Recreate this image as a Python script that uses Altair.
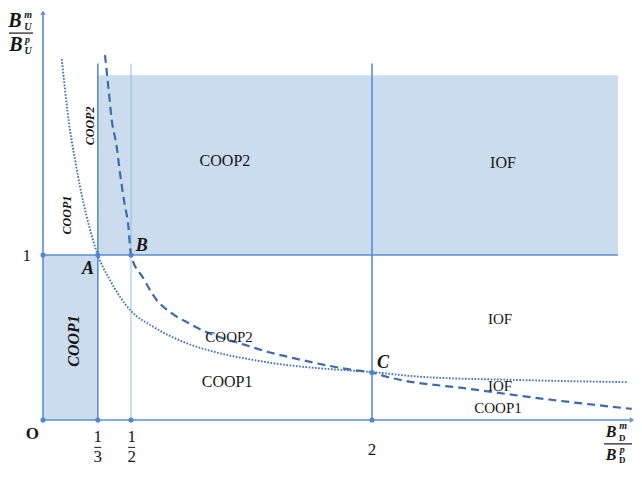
import altair as alt
import pandas as pd

# ---------------- data ----------------
# threshold curves
dotted_x = [0.114, 0.134, 0.164, 0.195, 0.225, 0.266, 0.333, 0.407, 0.468, 0.529, 0.670,
            0.874, 1.076, 1.278, 1.481, 1.684, 2.0, 2.292, 2.900, 3.556]
dotted_y = [2.188, 2.0, 1.758, 1.576, 1.414, 1.232, 1.0, 0.848, 0.747, 0.667, 0.565,
            0.465, 0.404, 0.364, 0.333, 0.313, 0.29, 0.262, 0.242, 0.229]

dashed_x = [0.377, 0.397, 0.418, 0.448, 0.468, 0.492, 0.519, 0.535, 0.610, 0.691, 0.782,
            0.894, 0.965, 1.228, 1.368, 1.502, 1.684, 1.886, 2.0, 2.089, 2.596, 3.100, 3.579]
dashed_y = [2.212, 2.020, 1.818, 1.656, 1.497, 1.333, 1.172, 1.0, 0.859, 0.727, 0.647,
            0.582, 0.545, 0.455, 0.412, 0.380, 0.339, 0.303, 0.288, 0.262, 0.188, 0.121, 0.067]

# shaded regions
rect_x = [0.3333, 0.0]
rect_x2 = [3.495, 0.3333]
rect_y = [1.0, 0.0]
rect_y2 = [2.09, 1.0]

# line segments (axes, borders, guides)
seg_x = [0.0, 0.0, 0.0, 0.3333, 2.0, 0.535]
seg_y = [0.0, 0.0, 1.0, 0.0, 0.0, 0.0]
seg_x2 = [3.585, 0.0, 3.495, 0.3333, 2.0, 0.535]
seg_y2 = [0.0, 2.473, 1.0, 2.16, 2.16, 2.16]
seg_w = [1.6, 1.6, 1.6, 1.6, 1.6, 0.9]
seg_c = ["#5b8ed3", "#5b8ed3", "#5b8ed3", "#5b8ed3", "#5b8ed3", "#8fb3e2"]

# marked points
pt_x = [0.0, 0.0, 0.3333, 0.535, 0.3333, 0.535, 2.0, 2.0]
pt_y = [0.0, 1.0, 0.0, 0.0, 1.0, 1.0, 0.0, 0.288]

# region labels
reg_text = ["COOP2", "IOF", "IOF", "COOP2", "COOP1", "IOF", "COOP1"]
reg_x = [1.106, 2.796, 2.778, 1.131, 1.119, 2.778, 2.766]
reg_y = [1.570, 1.558, 0.612, 0.50, 0.232, 0.206, 0.070]
reg_size = [16, 16, 15, 15, 16, 15, 15]

# rotated labels
rot_text = ["COOP2", "COOP1", "COOP1"]
rot_x = [0.286, 0.144, 0.188]
rot_y = [1.782, 1.242, 0.479]
rot_size = [12, 12, 16]

# point letters
let_text = ["A", "B", "C"]
let_x = [0.274, 0.600, 2.067]
let_y = [0.915, 1.055, 0.348]

# tick labels
tick_text = ["1", "1", "3", "1", "2", "2"]
tick_x = [-0.099, 0.3333, 0.3333, 0.539, 0.539, 2.0]
tick_y = [0.994, -0.103, -0.226, -0.103, -0.226, -0.182]
bar_x = [0.312, 0.518]
bar_x2 = [0.354, 0.560]
bar_y = [-0.166, -0.166]

# axis titles (fraction pieces): italic parts
ttl_text = ["B", "m", "U", "B", "p", "U", "B", "m", "B", "p"]
ttl_x = [-0.170, -0.090, -0.092, -0.164, -0.094, -0.090, 3.453, 3.527, 3.453, 3.522]
ttl_y = [2.418, 2.455, 2.382, 2.273, 2.303, 2.236, -0.073, -0.036, -0.212, -0.182]
ttl_size = [20, 10, 10, 20, 10, 10, 16, 10, 16, 10]
# upright subscripts
sub_text = ["D", "D"]
sub_x = [3.522, 3.522]
sub_y = [-0.109, -0.242]
tbar_x = [-0.207, 3.410]
tbar_x2 = [-0.061, 3.581]
tbar_y = [2.345, -0.145]

# ---------------- chart ----------------
xs = alt.Scale(domain=[-0.2128, 3.5927], nice=False, zero=False)
ys = alt.Scale(domain=[-0.273, 2.497], nice=False, zero=False)
X = lambda f: alt.X(f, type="quantitative", scale=xs, axis=None)
Y = lambda f: alt.Y(f, type="quantitative", scale=ys, axis=None)
SERIF = "Liberation Serif"
INK = "#161616"

rects = alt.Chart(pd.DataFrame({"x": rect_x, "x2": rect_x2, "y": rect_y, "y2": rect_y2})).mark_rect(
    color="#cbdcee").encode(x=X("x"), x2="x2", y=Y("y"), y2="y2")

segs = alt.Chart(pd.DataFrame({"x": seg_x, "y": seg_y, "x2": seg_x2, "y2": seg_y2,
                               "w": seg_w, "c": seg_c})).mark_rule().encode(
    x=X("x"), y=Y("y"), x2="x2", y2="y2",
    strokeWidth=alt.StrokeWidth("w:Q", scale=None),
    color=alt.Color("c:N", scale=None))

arrows = alt.Chart(pd.DataFrame({"x": [3.585, 0.0], "y": [0.0, 2.473],
                                 "s": ["M -1 -0.7 L 0 0 L -1 0.7", "M -0.7 1 L 0 0 L 0.7 1"]})).mark_point(
    filled=False, size=36, strokeWidth=1.4, color="#5b8ed3", opacity=1).encode(
    x=X("x"), y=Y("y"), shape=alt.Shape("s:N", scale=None))

dotted = alt.Chart(pd.DataFrame({"x": dotted_x, "y": dotted_y})).mark_line(
    color="#4170b3", strokeWidth=1.9, strokeDash=[1.6, 1.6], interpolate="monotone").encode(
    x=X("x"), y=Y("y"), order="x:Q")

dashed = alt.Chart(pd.DataFrame({"x": dashed_x, "y": dashed_y})).mark_line(
    color="#3d6aab", strokeWidth=2.2, strokeDash=[8, 5], interpolate="monotone").encode(
    x=X("x"), y=Y("y"), order="x:Q")

points = alt.Chart(pd.DataFrame({"x": pt_x, "y": pt_y})).mark_circle(
    color="#4f86cf", size=26, opacity=1).encode(x=X("x"), y=Y("y"))

regions = alt.Chart(pd.DataFrame({"t": reg_text, "x": reg_x, "y": reg_y, "s": reg_size})).mark_text(
    font=SERIF, color=INK, baseline="middle", align="center").encode(
    x=X("x"), y=Y("y"), text="t:N", size=alt.Size("s:Q", scale=None))

rotated = alt.Chart(pd.DataFrame({"t": rot_text, "x": rot_x, "y": rot_y, "s": rot_size})).mark_text(
    font=SERIF, color=INK, fontStyle="italic", fontWeight="bold", angle=270,
    baseline="middle", align="center").encode(
    x=X("x"), y=Y("y"), text="t:N", size=alt.Size("s:Q", scale=None))

letters = alt.Chart(pd.DataFrame({"t": let_text, "x": let_x, "y": let_y})).mark_text(
    font=SERIF, color=INK, fontStyle="italic", fontWeight="bold", fontSize=18,
    baseline="middle", align="center").encode(x=X("x"), y=Y("y"), text="t:N")

ticks = alt.Chart(pd.DataFrame({"t": tick_text, "x": tick_x, "y": tick_y})).mark_text(
    font=SERIF, color=INK, fontSize=17, baseline="middle", align="center").encode(
    x=X("x"), y=Y("y"), text="t:N")

origin = alt.Chart(pd.DataFrame({"t": ["O"], "x": [-0.064], "y": [-0.085]})).mark_text(
    font=SERIF, color=INK, fontSize=17, fontWeight="bold", baseline="middle", align="center").encode(
    x=X("x"), y=Y("y"), text="t:N")

bars = alt.Chart(pd.DataFrame({"x": bar_x, "x2": bar_x2, "y": bar_y})).mark_rule(
    color=INK, strokeWidth=1).encode(x=X("x"), x2="x2", y=Y("y"))

titles = alt.Chart(pd.DataFrame({"t": ttl_text, "x": ttl_x, "y": ttl_y, "s": ttl_size})).mark_text(
    font=SERIF, color=INK, fontWeight="bold", fontStyle="italic", baseline="middle", align="center").encode(
    x=X("x"), y=Y("y"), text="t:N", size=alt.Size("s:Q", scale=None))

subs = alt.Chart(pd.DataFrame({"t": sub_text, "x": sub_x, "y": sub_y})).mark_text(
    font=SERIF, color=INK, fontWeight="bold", fontSize=9, baseline="middle", align="center").encode(
    x=X("x"), y=Y("y"), text="t:N")

tbars = alt.Chart(pd.DataFrame({"x": tbar_x, "x2": tbar_x2, "y": tbar_y})).mark_rule(
    color=INK, strokeWidth=1.2).encode(x=X("x"), x2="x2", y=Y("y"))

chart = alt.layer(rects, segs, arrows, dotted, dashed, points, regions, rotated, letters,
                  ticks, origin, bars, titles, subs, tbars).properties(
    width=626, height=457, padding=0,
    autosize=alt.AutoSizeParams(type="none")).configure_view(stroke=None)

chart.save("out.html", embed_options={"renderer": "svg", "actions": False})
